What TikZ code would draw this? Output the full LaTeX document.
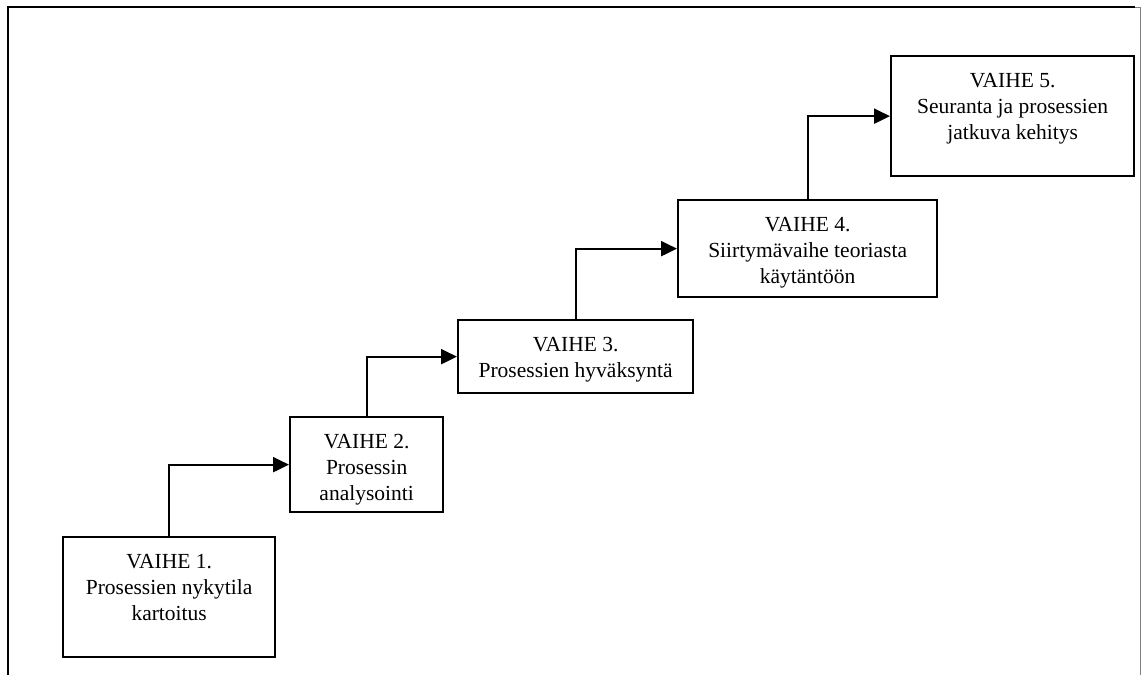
\documentclass[tikz,border=0pt]{standalone}
\usepackage{fontspec}
\setmainfont{Liberation Serif}
\usetikzlibrary{arrows.meta}

\tikzset{
  vaihe/.style={draw, line width=2.3pt, inner sep=0pt, anchor=north west,
    font=\fontsize{21.5}{26}\selectfont},
  nuoli/.style={line width=2.3pt, -{Triangle[length=16pt,width=15pt]}}
}
\newcommand{\vaiheteksti}[3]{\parbox[t][#2][t]{#1}{\centering\vspace*{12.8pt}\strut #3}}

\begin{document}
\begin{tikzpicture}[x=1pt,y=-1pt]
\useasboundingbox (0,0) rectangle (1141,675);
% kehys
\draw[line width=2.3pt] (8,675) -- (8,7) -- (1135,7);
\draw[gray, line width=1pt] (1135,7) -- (1140,7) -- (1140,675);
% vaiheet
\node[vaihe] (v1) at (62,536) {\vaiheteksti{212pt}{120pt}{VAIHE 1.\\Prosessien nykytila\\kartoitus}};
\node[vaihe] (v2) at (289,416) {\vaiheteksti{153pt}{95pt}{VAIHE 2.\\Prosessin\\analysointi}};
\node[vaihe] (v3) at (457,319) {\vaiheteksti{235pt}{73pt}{VAIHE 3.\\Prosessien hyväksyntä}};
\node[vaihe] (v4) at (677,199) {\vaiheteksti{259pt}{97pt}{VAIHE 4.\\Siirtymävaihe teoriasta\\käytäntöön}};
\node[vaihe] (v5) at (890,55) {\vaiheteksti{243pt}{120pt}{VAIHE 5.\\Seuranta ja prosessien\\jatkuva kehitys}};
% nuolet
\draw[nuoli] (v1.north) |- (v2.west);
\draw[nuoli] (v2.north) |- (v3.west);
\draw[nuoli] (v3.north) |- (v4.west);
\draw[nuoli] (v4.north) |- (v5.west);
\end{tikzpicture}
\end{document}
